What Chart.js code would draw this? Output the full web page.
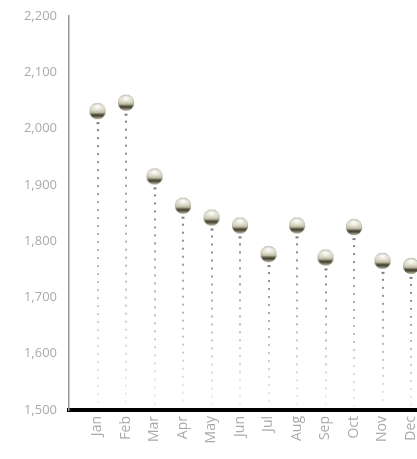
<!DOCTYPE html>
<html>
<head>
<meta charset="utf-8">
<script src="https://cdn.jsdelivr.net/npm/chart.js@4"></script>
<style>
  html, body { margin: 0; padding: 0; background: #fff; overflow: hidden; }
  canvas { display: block; }
</style>
</head>
<body>
<canvas id="chart" width="417" height="459"></canvas>
<script>
// chart data
const months = ['Jan', 'Feb', 'Mar', 'Apr', 'May', 'Jun', 'Jul', 'Aug', 'Sep', 'Oct', 'Nov', 'Dec'];
const values = [2031, 2046, 1915, 1863, 1842, 1828, 1777, 1828, 1771, 1825, 1765, 1756];
const yTicks = [1500, 1600, 1700, 1800, 1900, 2000, 2100, 2200];

// shiny ball used as point style
function makeBall(r) {
    const c = document.createElement('canvas');
    c.width = c.height = r * 2 + 2;
    const g = c.getContext('2d');
    const cx = r + 1, cy = r + 1;
    const lin = g.createLinearGradient(0, cy - r, 0, cy + r);
    lin.addColorStop(0, '#c4c2ae');
    lin.addColorStop(0.18, '#f1f0e6');
    lin.addColorStop(0.45, '#dedcc9');
    lin.addColorStop(0.6, '#b9b69f');
    lin.addColorStop(0.7, '#57553f');
    lin.addColorStop(0.8, '#3b392b');
    lin.addColorStop(0.9, '#8d8a72');
    lin.addColorStop(1, '#c9c6b0');
    g.beginPath();
    g.arc(cx, cy, r, 0, Math.PI * 2);
    g.fillStyle = lin;
    g.fill();
    // edge shading
    const rad = g.createRadialGradient(cx, cy - r * 0.2, r * 0.3, cx, cy, r);
    rad.addColorStop(0, 'rgba(255,255,255,0)');
    rad.addColorStop(0.8, 'rgba(120,118,100,0.1)');
    rad.addColorStop(1, 'rgba(90,88,70,0.45)');
    g.fillStyle = rad;
    g.fill();
    // highlight
    const hl = g.createRadialGradient(cx, cy - r * 0.55, 0, cx, cy - r * 0.55, r * 0.5);
    hl.addColorStop(0, 'rgba(255,255,255,0.95)');
    hl.addColorStop(1, 'rgba(255,255,255,0)');
    g.fillStyle = hl;
    g.fill();
    return c;
}
const ball = makeBall(8);

// dotted stems under each ball
const stemPlugin = {
    id: 'stems',
    beforeDatasetsDraw(chart) {
        const ctx = chart.ctx;
        const bottom = chart.chartArea.bottom;
        chart.getDatasetMeta(0).data.forEach(pt => {
            const x = Math.round(pt.x);
            const top = pt.y + 10;
            // short dark dash right below the ball
            ctx.fillStyle = '#808080';
            ctx.fillRect(x - 1.5, top + 1, 3, 2);
            for (let y = top + 8; y < bottom - 4; y += 8) {
                const t = (y - top) / (bottom - top);
                const shade = Math.round(130 + t * 112);
                ctx.fillStyle = `rgb(${shade},${shade},${shade})`;
                ctx.fillRect(x - 1, y, 2, 2);
            }
        });
    }
};

new Chart(document.getElementById('chart'), {
    type: 'scatter',
    data: {
        datasets: [{
            data: values.map((v, i) => ({ x: i + 1, y: v })),
            pointStyle: ball,
            pointRadius: 8,
            pointHoverRadius: 8
        }]
    },
    options: {
        responsive: false,
        animation: false,
        clip: false,
        layout: { autoPadding: false, padding: { top: 16, right: 0, left: 0, bottom: 0 } },
        plugins: {
            legend: { display: false },
            tooltip: { enabled: false }
        },
        scales: {
            x: {
                type: 'linear',
                min: 0,
                max: 12.21,
                afterBuildTicks: scale => {
                    scale.ticks = months.map((m, i) => ({ value: i + 1 }));
                },
                afterFit: scale => {
                    scale.height = 49;
                    scale.paddingLeft = 0;
                    scale.paddingRight = 0;
                },
                ticks: {
                    autoSkip: false,
                    minRotation: 90,
                    maxRotation: 90,
                    padding: 6,
                    color: '#aaaaaa',
                    font: { family: 'Open Sans', size: 14 },
                    callback: v => months[v - 1] || ''
                },
                grid: { display: false, drawTicks: false },
                border: { display: true, color: '#000000', width: 4 }
            },
            y: {
                min: 1500,
                max: 2200,
                afterBuildTicks: scale => {
                    scale.ticks = yTicks.map(v => ({ value: v }));
                },
                afterFit: scale => {
                    scale.width = 69;
                    scale.paddingTop = 0;
                    scale.paddingBottom = 0;
                },
                ticks: {
                    padding: 12,
                    color: '#aaaaaa',
                    font: { family: 'Open Sans', size: 13 },
                    callback: v => v.toLocaleString('en-US')
                },
                grid: { display: false, drawTicks: false },
                border: { display: true, color: '#999999', width: 1.5 }
            }
        }
    },
    plugins: [stemPlugin]
});
</script>
</body>
</html>
